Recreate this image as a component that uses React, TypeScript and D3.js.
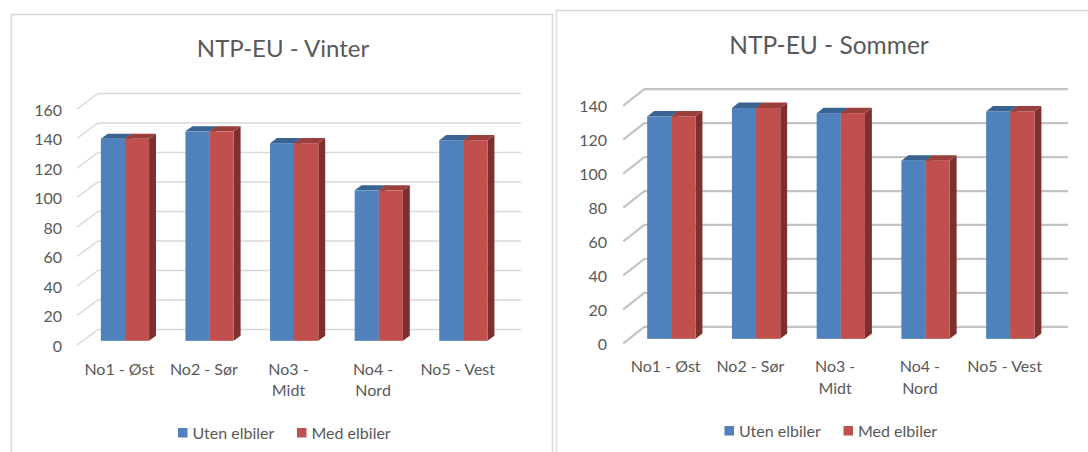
import React from "react";
import * as d3 from "d3";

// Regions and series
const regions = ["No1 - Øst", "No2 - Sør", "No3 - Midt", "No4 - Nord", "No5 - Vest"];
const regionLines = [["No1 - Øst"], ["No2 - Sør"], ["No3 -", "Midt"], ["No4 -", "Nord"], ["No5 - Vest"]];
const seriesNames = ["Uten elbiler", "Med elbiler"];

const vinterUten = [137, 142, 134, 102, 136];
const vinterMed = [137, 142, 134, 102, 136];
const sommerUten = [131, 136, 133, 105, 134];
const sommerMed = [131, 136, 133, 105, 134];

const vinterTicks = [0, 20, 40, 60, 80, 100, 120, 140, 160];
const sommerTicks = [0, 20, 40, 60, 80, 100, 120, 140];

const FONT = "Lato, 'Noto Sans', sans-serif";
const TEXT = "#595959";

const faces = [
  { front: "#4f81bd", top: "#3b6391", side: "#375b87" },
  { front: "#c0504d", top: "#9b3f3c", side: "#7e302f" },
];

type Geo = {
  x0: number; x1: number; yBase: number; yMax: number; dx: number; dy: number;
  tickX: number; titleX: number; titleY: number; titleSize: number;
  labelY: number; legendCx: number; legendY: number;
  grid: string; gridW: number;
};

function Chart3D({ title, data, ticks, g }: { title: string; data: number[][]; ticks: number[]; g: Geo }) {
  const max = ticks[ticks.length - 1];
  const y = d3.scaleLinear().domain([0, max]).range([g.yBase, g.yMax]);
  const x = d3.scaleBand<string>().domain(regions).range([g.x0, g.x1]).padding(0);
  const bw = x.bandwidth();
  const barW = bw * 0.285;
  const zf = 0.27;
  const zb = 0.6;
  const at = (px: number, v: number, z: number): [number, number] => [px + z * g.dx, y(v) - z * g.dy];

  return (
    <g>
      <text x={g.titleX} y={g.titleY} textAnchor="middle" dominantBaseline="central"
        fontFamily={FONT} fontSize={g.titleSize} fill={TEXT}>{title}</text>
      {ticks.map((t) => {
        const [fx, fy] = at(g.x0, t, 0);
        const [bx, by] = at(g.x0, t, 1);
        const [ex] = at(g.x1, t, 1);
        return (
          <g key={t}>
            <path d={`M${fx},${fy}L${bx},${by}L${ex},${by}`} fill="none" stroke={g.grid} strokeWidth={g.gridW} />
            <text x={g.tickX} y={fy} textAnchor="end" dominantBaseline="central"
              fontFamily={FONT} fontSize={16} fill={TEXT}>{t}</text>
          </g>
        );
      })}
      {regions.map((r, i) => {
        const gx = (x(r) as number) + bw / 2 - barW;
        return (
          <g key={r}>
            {data.map((vals, s) => {
              const left = gx + s * barW;
              const right = left + barW;
              const v = vals[i];
              const [flx, fty] = at(left, v, zf);
              const [frx, fby] = at(right, 0, zf);
              const [blx, bty] = at(left, v, zb);
              const [brx, bby] = at(right, 0, zb);
              const side = `M${frx},${fty}L${brx},${bty}L${brx},${bby}L${frx},${fby}Z`;
              const top = `M${flx},${fty}L${blx},${bty}L${brx},${bty}L${frx},${fty}Z`;
              return (
                <g key={s}>
                  <path d={side} fill={faces[s].side} />
                  <path d={top} fill={faces[s].top} />
                  <rect x={flx} y={fty} width={frx - flx} height={fby - fty} fill={faces[s].front} />
                </g>
              );
            })}
            {regionLines[i].map((line, k) => (
              <text key={k} x={(x(r) as number) + bw / 2} y={g.labelY + k * 21.5} textAnchor="middle"
                dominantBaseline="central" fontFamily={FONT} fontSize={16} fill={TEXT}>{line}</text>
            ))}
          </g>
        );
      })}
      {seriesNames.map((name, s) => {
        const sx = g.legendCx + (s === 0 ? -108.5 : 10.5);
        return (
          <g key={name}>
            <rect x={sx} y={g.legendY - 4.5} width={9.5} height={9.5} fill={faces[s].front} />
            <text x={sx + 14.5} y={g.legendY} dominantBaseline="central" fontFamily={FONT}
              fontSize={16} fill={TEXT}>{name}</text>
          </g>
        );
      })}
    </g>
  );
}

export default function App() {
  const left: Geo = {
    x0: 77, x1: 500, yBase: 345, yMax: 109, dx: 21, dy: 15.5,
    tickX: 62, titleX: 283, titleY: 47, titleSize: 24,
    labelY: 368, legendCx: 286.5, legendY: 432.5, grid: "#d9d9d9", gridW: 1.5,
  };
  const right: Geo = {
    x0: 623.3, x1: 1047, yBase: 343.3, yMax: 105.7, dx: 21, dy: 16.5,
    tickX: 607, titleX: 829, titleY: 44.5, titleSize: 24.5,
    labelY: 365.7, legendCx: 833, legendY: 430.5, grid: "#c4c4c4", gridW: 2.2,
  };
  return (
    <svg width={1088} height={452} style={{ position: "fixed", left: 0, top: 0, background: "#fff" }}>
      <rect x={11.5} y={14.5} width={541} height={460} fill="#fff" stroke="#d9d9d9" strokeWidth={1.5} />
      <rect x={556.5} y={10.5} width={560} height={460} fill="#fff" stroke="#d9d9d9" strokeWidth={1.5} />
      <Chart3D title="NTP-EU - Vinter" data={[vinterUten, vinterMed]} ticks={vinterTicks} g={left} />
      <Chart3D title="NTP-EU - Sommer" data={[sommerUten, sommerMed]} ticks={sommerTicks} g={right} />
    </svg>
  );
}
